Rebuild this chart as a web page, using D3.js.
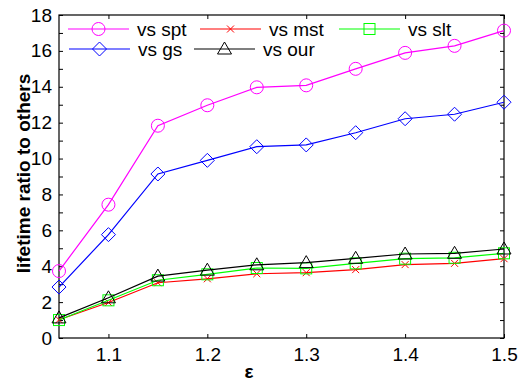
<!DOCTYPE html>
<html>
<head>
<meta charset="utf-8">
<script src="https://cdn.jsdelivr.net/npm/d3@7"></script>
<style>
  body { margin: 0; background: #fff; }
  text { font-family: "Liberation Sans", Arial, sans-serif; }
</style>
</head>
<body>
<div id="chart"></div>
<script>
// epsilon values on the x axis
const eps = [1.05, 1.1, 1.15, 1.2, 1.25, 1.3, 1.35, 1.4, 1.45, 1.5];

// lifetime ratios
const vsSpt = [3.73, 7.43, 11.83, 12.97, 13.97, 14.08, 15.0, 15.89, 16.28, 17.13];
const vsMst = [1.02, 1.98, 3.08, 3.3, 3.58, 3.64, 3.81, 4.09, 4.16, 4.42];
const vsSlt = [1.0, 2.1, 3.22, 3.55, 3.9, 3.88, 4.16, 4.42, 4.47, 4.72];
const vsGs  = [2.84, 5.76, 9.14, 9.9, 10.66, 10.76, 11.44, 12.22, 12.47, 13.14];
const vsOur = [1.12, 2.24, 3.45, 3.78, 4.08, 4.2, 4.44, 4.68, 4.72, 4.96];

const xTicks = [1.1, 1.2, 1.3, 1.4, 1.5];
const yTicks = [0, 2, 4, 6, 8, 10, 12, 14, 16, 18];

const series = [
  {name: "vs spt", values: vsSpt, color: "#ff00ff", marker: "circle"},
  {name: "vs mst", values: vsMst, color: "#ff0000", marker: "x"},
  {name: "vs slt", values: vsSlt, color: "#00ff00", marker: "square"},
  {name: "vs gs",  values: vsGs,  color: "#0000ff", marker: "diamond"},
  {name: "vs our", values: vsOur, color: "#000000", marker: "triangle"}
];

const margin = {top: 15, right: 20, bottom: 43, left: 59},
      width = 524 - margin.left - margin.right,
      height = 381 - margin.top - margin.bottom;

const svg = d3.select("#chart").append("svg")
    .attr("width", 524)
    .attr("height", 381)
  .append("g")
    .attr("transform", `translate(${margin.left},${margin.top})`);

const x = d3.scaleLinear().domain([1.05, 1.5]).range([0, width]);
const y = d3.scaleLinear().domain([0, 18]).range([height, 0]);

// draw one marker shape at (cx, cy)
function drawMarker(g, type, cx, cy, color) {
  if (type === "circle") {
    g.append("circle").attr("cx", cx).attr("cy", cy).attr("r", 6.5)
      .attr("fill", "none").attr("stroke", color);
  } else if (type === "square") {
    g.append("rect").attr("x", cx - 5.5).attr("y", cy - 5.5)
      .attr("width", 11).attr("height", 11)
      .attr("fill", "none").attr("stroke", color);
  } else if (type === "diamond") {
    g.append("path")
      .attr("d", `M${cx},${cy - 7}L${cx + 7},${cy}L${cx},${cy + 7}L${cx - 7},${cy}Z`)
      .attr("fill", "none").attr("stroke", color);
  } else if (type === "triangle") {
    g.append("path")
      .attr("d", `M${cx},${cy - 7}L${cx + 7},${cy + 5}L${cx - 7},${cy + 5}Z`)
      .attr("fill", "none").attr("stroke", color);
  } else if (type === "x") {
    g.append("path")
      .attr("d", `M${cx - 3.5},${cy - 3.5}L${cx + 3.5},${cy + 3.5}M${cx - 3.5},${cy + 3.5}L${cx + 3.5},${cy - 3.5}`)
      .attr("fill", "none").attr("stroke", color);
  }
}

// axes: ticks point inward on all four sides
const minorY = d3.range(0, 19, 1);
svg.append("g")
    .attr("transform", `translate(0,${height})`)
    .call(d3.axisBottom(x).tickValues(xTicks).tickSize(-4).tickPadding(10)
      .tickFormat(d3.format(".1f")))
    .call(g => g.select(".domain").remove());
svg.append("g")
    .call(d3.axisTop(x).tickValues(xTicks).tickSize(-4).tickFormat(""))
    .call(g => g.select(".domain").remove());
svg.append("g")
    .call(d3.axisLeft(y).tickValues(minorY).tickSize(-4).tickPadding(7)
      .tickFormat(d => d % 2 === 0 ? d : ""))
    .call(g => g.select(".domain").remove());
svg.append("g")
    .attr("transform", `translate(${width},0)`)
    .call(d3.axisRight(y).tickValues(minorY).tickSize(-4).tickFormat(""))
    .call(g => g.select(".domain").remove());

svg.selectAll(".tick text")
    .attr("font-family", "Liberation Sans, Arial, sans-serif")
    .attr("font-size", 19)
    .attr("fill", "#000");
svg.selectAll(".tick line").attr("stroke", "#000");

svg.append("rect")
    .attr("width", width).attr("height", height)
    .attr("fill", "none").attr("stroke", "#000").attr("stroke-width", 1.2);

// lines and markers
const line = d3.line()
    .x((d, i) => x(eps[i]))
    .y(d => y(d));

series.forEach(s => {
  svg.append("path")
      .datum(s.values)
      .attr("d", line)
      .attr("fill", "none")
      .attr("stroke", s.color)
      .attr("stroke-width", 1.2);
  const mg = svg.append("g");
  s.values.forEach((v, i) => drawMarker(mg, s.marker, x(eps[i]), y(v), s.color));
});

// legend (no box), 3 columns
const legendPos = [
  {lx: 9, ly: 14}, {lx: 141, ly: 14}, {lx: 280, ly: 14},
  {lx: 10, ly: 34}, {lx: 135, ly: 34}
];
series.forEach((s, i) => {
  const p = legendPos[i];
  const lg = svg.append("g").attr("transform", `translate(${p.lx},${p.ly})`);
  lg.append("line").attr("x1", 0).attr("x2", 61).attr("y1", 0).attr("y2", 0)
    .attr("stroke", s.color).attr("stroke-width", 1.2);
  drawMarker(lg, s.marker, 30.5, 0, s.color);
  lg.append("text").attr("x", 69).attr("y", 0).attr("dy", "0.35em")
    .attr("font-size", 19).text(s.name);
});

// axis labels
svg.append("text")
    .attr("x", 249 - margin.left)
    .attr("y", height + 40)
    .attr("text-anchor", "middle")
    .attr("font-size", 19)
    .attr("font-weight", "bold")
    .text("ε");

svg.append("text")
    .attr("transform", "rotate(-90)")
    .attr("x", -height / 2 + 3)
    .attr("y", -margin.left + 30)
    .attr("text-anchor", "middle")
    .attr("font-size", 19)
    .attr("font-weight", "bold")
    .text("lifetime ratio to others");
</script>
</body>
</html>
